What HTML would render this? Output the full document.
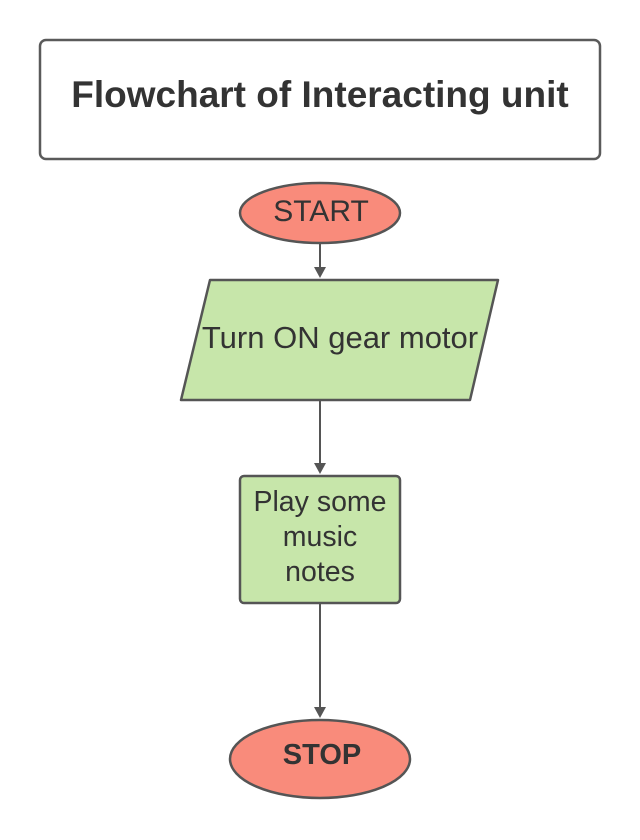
<!DOCTYPE html>
<html><head><style>body{margin:0;background:#fff}svg{display:block}</style></head>
<body>
<svg width="640" height="840" xmlns="http://www.w3.org/2000/svg" font-family="Liberation Sans, sans-serif">
<rect x="40" y="40" width="560" height="119" rx="6" fill="#fff" stroke="#5a5a5a" stroke-width="2.5"/>
<text x="320" y="107" text-anchor="middle" font-size="37" font-weight="bold" fill="#333">Flowchart of Interacting unit</text>
<ellipse cx="320" cy="213" rx="80" ry="30" fill="#f98b7b" stroke="#555" stroke-width="2.5"/>
<text x="321" y="221" text-anchor="middle" font-size="30" fill="#333">START</text>
<line x1="320" y1="243" x2="320" y2="270" stroke="#555" stroke-width="2"/>
<polygon points="314,267 326,267 320,278" fill="#555"/>
<polygon points="210,280 498,280 470,400 181,400" fill="#c7e6aa" stroke="#555" stroke-width="2.5" stroke-linejoin="round"/>
<text x="340" y="348" text-anchor="middle" font-size="31" fill="#333">Turn ON gear motor</text>
<line x1="320" y1="400" x2="320" y2="466" stroke="#555" stroke-width="2"/>
<polygon points="314,463 326,463 320,474" fill="#555"/>
<rect x="240" y="476" width="160" height="127" rx="4" fill="#c7e6aa" stroke="#555" stroke-width="2.5"/>
<text x="320" y="511" text-anchor="middle" font-size="28.5" fill="#333">Play some</text>
<text x="320" y="546" text-anchor="middle" font-size="28.5" fill="#333">music</text>
<text x="320" y="581" text-anchor="middle" font-size="28.5" fill="#333">notes</text>
<line x1="320" y1="603" x2="320" y2="710" stroke="#555" stroke-width="2"/>
<polygon points="314,707 326,707 320,718" fill="#555"/>
<ellipse cx="320" cy="759" rx="90" ry="39" fill="#f98b7b" stroke="#555" stroke-width="2.5"/>
<text x="322" y="764" text-anchor="middle" font-size="29" font-weight="bold" fill="#333">STOP</text>
</svg>
</body></html>
